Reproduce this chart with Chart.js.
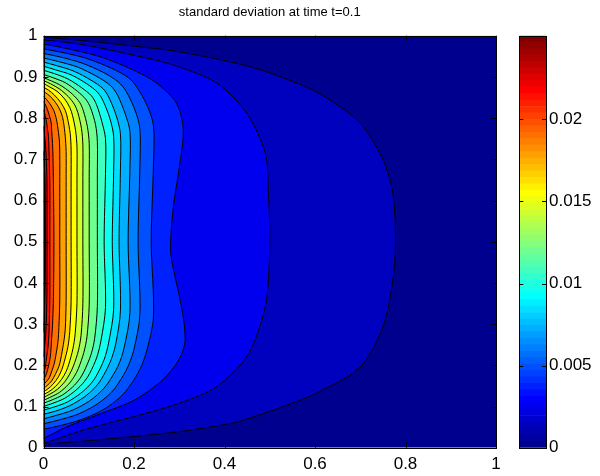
<!DOCTYPE html>
<html>
<head>
<meta charset="utf-8">
<title>standard deviation at time t=0.1</title>
<script src="https://cdn.jsdelivr.net/npm/chart.js@4.4.1/dist/chart.umd.min.js"></script>
<style>
  html, body { margin: 0; padding: 0; background: #fff; }
  #wrap { position: relative; width: 600px; height: 476px; }
  #field { position: absolute; left: 0; top: 0; }
  #cbar { position: absolute; left: 500px; top: 0; }
</style>
</head>
<body>
<div id="wrap">
  <canvas id="field" width="600" height="476"></canvas>
  <canvas id="cbar" width="100" height="476"></canvas>
</div>
<script>
// Axis ticks
const xTicks = [0, 0.2, 0.4, 0.6, 0.8, 1];
const yTicks = [0, 0.1, 0.2, 0.3, 0.4, 0.5, 0.6, 0.7, 0.8, 0.9, 1];
const cbarTicks = [0, 0.005, 0.01, 0.015, 0.02];
const cMax = 0.0251;

// Contour levels (std. deviation), outermost first
const levels = [0.0012, 0.0024, 0.0036, 0.0048, 0.0060, 0.0072, 0.0084, 0.0096, 0.0108, 0.0120,
                0.0132, 0.0143, 0.0155, 0.0167, 0.0179, 0.0191, 0.0203, 0.0215, 0.0227, 0.0239];

// Contour lines as [x, y] points, running from the bottom edge round to the top edge
const contours = [
  [[0,0.003],[0.014,0.009],[0.088,0.016],[0.198,0.027],[0.30,0.039],[0.419,0.06],[0.456,0.072],[0.53,0.100],[0.604,0.133],[0.70,0.196],[0.75,0.293],[0.772,0.407],[0.778,0.5],[0.772,0.618],[0.75,0.70],[0.70,0.788],[0.626,0.849],[0.567,0.882],[0.456,0.925],[0.30,0.961],[0.198,0.975],[0.088,0.988],[0.014,0.995],[0,0.997]],
  [[0,0.01],[0.088,0.043],[0.198,0.075],[0.30,0.108],[0.383,0.148],[0.449,0.221],[0.478,0.294],[0.494,0.367],[0.50,0.5],[0.497,0.62],[0.490,0.715],[0.449,0.812],[0.383,0.885],[0.287,0.929],[0.198,0.953],[0.088,0.978],[0,0.99]],
  [[0,0.022],[0.05,0.05],[0.12,0.08],[0.2,0.115],[0.264,0.165],[0.30,0.215],[0.313,0.261],[0.305,0.342],[0.283,0.456],[0.281,0.5],[0.287,0.585],[0.300,0.68],[0.309,0.771],[0.294,0.836],[0.25,0.885],[0.198,0.917],[0.125,0.949],[0.051,0.969],[0,0.98]],
  [[0,0.045],[0.038,0.054],[0.083,0.068],[0.129,0.0905],[0.159,0.113],[0.181,0.136],[0.209,0.1815],[0.226,0.227],[0.243,0.318],[0.238,0.5],[0.243,0.687],[0.243,0.781],[0.230,0.828],[0.207,0.874],[0.188,0.898],[0.150,0.921],[0.095,0.945],[0.043,0.959],[0,0.968]],
  [[0,0.058],[0.033,0.067],[0.073,0.080],[0.113,0.102],[0.140,0.124],[0.159,0.146],[0.184,0.191],[0.199,0.235],[0.213,0.323],[0.209,0.5],[0.213,0.683],[0.213,0.774],[0.202,0.820],[0.182,0.866],[0.165,0.888],[0.132,0.911],[0.084,0.934],[0.038,0.948],[0,0.957]],
  [[0,0.070],[0.030,0.079],[0.065,0.0915],[0.101,0.113],[0.125,0.1345],[0.142,0.156],[0.165,0.199],[0.178,0.242],[0.191,0.328],[0.187,0.5],[0.191,0.678],[0.191,0.768],[0.180,0.812],[0.163,0.857],[0.148,0.879],[0.118,0.901],[0.075,0.924],[0.034,0.937],[0,0.946]],
  [[0,0.081],[0.027,0.089],[0.058,0.102],[0.090,0.123],[0.112,0.144],[0.127,0.165],[0.147,0.207],[0.159,0.249],[0.170,0.332],[0.167,0.5],[0.170,0.674],[0.170,0.762],[0.161,0.805],[0.145,0.849],[0.132,0.871],[0.105,0.892],[0.067,0.914],[0.030,0.927],[0,0.936]],
  [[0,0.091],[0.024,0.099],[0.053,0.111],[0.082,0.132],[0.102,0.152],[0.116,0.173],[0.134,0.214],[0.144,0.255],[0.155,0.336],[0.152,0.5],[0.155,0.670],[0.155,0.756],[0.147,0.798],[0.132,0.841],[0.120,0.862],[0.096,0.883],[0.061,0.905],[0.027,0.917],[0,0.926]],
  [[0,0.100],[0.021,0.108],[0.047,0.120],[0.072,0.140],[0.090,0.160],[0.102,0.180],[0.118,0.220],[0.127,0.260],[0.137,0.340],[0.134,0.5],[0.137,0.666],[0.137,0.750],[0.129,0.791],[0.117,0.833],[0.106,0.854],[0.084,0.874],[0.054,0.895],[0.024,0.908],[0,0.916]],
  [[0,0.108],[0.019,0.116],[0.042,0.128],[0.064,0.147],[0.080,0.167],[0.090,0.186],[0.105,0.226],[0.113,0.265],[0.119,0.343],[0.119,0.5],[0.119,0.662],[0.119,0.744],[0.115,0.784],[0.104,0.825],[0.094,0.845],[0.075,0.865],[0.048,0.886],[0.021,0.898],[0,0.906]],
  [[0,0.115],[0.016,0.123],[0.035,0.134],[0.055,0.1535],[0.068,0.173],[0.077,0.192],[0.089,0.2305],[0.096,0.269],[0.101,0.346],[0.101,0.5],[0.101,0.659],[0.101,0.739],[0.097,0.779],[0.088,0.818],[0.080,0.838],[0.064,0.858],[0.040,0.878],[0.018,0.890],[0,0.898]],
  [[0,0.122],[0.014,0.130],[0.030,0.141],[0.047,0.160],[0.058,0.179],[0.066,0.198],[0.077,0.235],[0.083,0.273],[0.087,0.349],[0.087,0.5],[0.087,0.656],[0.087,0.735],[0.084,0.774],[0.076,0.813],[0.069,0.832],[0.055,0.852],[0.035,0.871],[0.016,0.883],[0,0.891]],
  [[0,0.129],[0.012,0.136],[0.026,0.148],[0.040,0.166],[0.050,0.185],[0.056,0.203],[0.065,0.240],[0.070,0.277],[0.074,0.352],[0.074,0.5],[0.074,0.654],[0.074,0.730],[0.071,0.769],[0.064,0.807],[0.058,0.826],[0.047,0.846],[0.030,0.865],[0.013,0.876],[0,0.884]],
  [[0,0.136],[0.010,0.143],[0.021,0.154],[0.033,0.172],[0.041,0.191],[0.046,0.209],[0.054,0.245],[0.058,0.282],[0.061,0.354],[0.061,0.5],[0.061,0.650],[0.061,0.725],[0.059,0.763],[0.053,0.800],[0.048,0.819],[0.038,0.838],[0.024,0.856],[0.011,0.868],[0,0.875]],
  [[0,0.144],[0.008,0.151],[0.018,0.162],[0.027,0.180],[0.034,0.197],[0.038,0.215],[0.044,0.251],[0.048,0.286],[0.050,0.358],[0.050,0.5],[0.050,0.646],[0.050,0.719],[0.048,0.756],[0.044,0.792],[0.040,0.810],[0.032,0.829],[0.020,0.847],[0.009,0.858],[0,0.865]],
  [[0,0.153],[0.006,0.160],[0.013,0.170],[0.019,0.188],[0.024,0.205],[0.027,0.222],[0.032,0.257],[0.034,0.292],[0.036,0.361],[0.036,0.5],[0.036,0.641],[0.036,0.712],[0.035,0.747],[0.031,0.782],[0.028,0.800],[0.023,0.818],[0.014,0.835],[0.006,0.846],[0,0.853]],
  [[0,0.164],[0.003,0.171],[0.007,0.181],[0.011,0.198],[0.014,0.214],[0.016,0.231],[0.018,0.265],[0.020,0.298],[0.022,0.366],[0.023,0.5],[0.022,0.636],[0.021,0.704],[0.020,0.738],[0.018,0.772],[0.017,0.789],[0.013,0.806],[0.008,0.823],[0.004,0.833],[0,0.840]],
  [[0,0.180],[0.002,0.186],[0.004,0.196],[0.006,0.212],[0.008,0.228],[0.010,0.244],[0.012,0.276],[0.013,0.308],[0.014,0.372],[0.014,0.5],[0.014,0.628],[0.013,0.692],[0.012,0.724],[0.011,0.756],[0.009,0.772],[0.007,0.788],[0.004,0.804],[0.002,0.814],[0,0.820]],
  [[0,0.22],[0.003,0.25],[0.006,0.30],[0.008,0.40],[0.008,0.5],[0.008,0.60],[0.007,0.68],[0.004,0.74],[0,0.78]],
  [[0,0.28],[0.002,0.33],[0.004,0.42],[0.004,0.58],[0.003,0.66],[0,0.72]]
];

const FONT = 'Liberation Sans, Arial, Helvetica, sans-serif';

// MATLAB-style jet colormap, 64 rows
function jetU(k) {
  if (k < 1 || k > 47) return 0;
  if (k <= 16) return k / 16;
  if (k <= 31) return 1;
  return (48 - k) / 16;
}
function jetRow(i) {
  const r = jetU(i - 24), g = jetU(i - 8), b = jetU(i + 8);
  return `rgb(${Math.round(r * 255)},${Math.round(g * 255)},${Math.round(b * 255)})`;
}
function levelColor(v) {
  return jetRow(Math.min(64, Math.floor(v / cMax * 64) + 1));
}

// inward tick marks + box round an axes area
function drawFrame(ctx, a, xs, ys, len) {
  ctx.save();
  ctx.strokeStyle = '#000';
  ctx.lineWidth = 1;
  ctx.beginPath();
  if (xs) xs.forEach(px => {
    const x = Math.round(px) + 0.5;
    ctx.moveTo(x, a.bottom); ctx.lineTo(x, a.bottom - len);
    ctx.moveTo(x, a.top); ctx.lineTo(x, a.top + len);
  });
  ys.forEach(py => {
    const y = Math.round(py) + 0.5;
    ctx.moveTo(a.left, y); ctx.lineTo(a.left + len, y);
    ctx.moveTo(a.right, y); ctx.lineTo(a.right - len, y);
  });
  ctx.stroke();
  ctx.strokeRect(Math.round(a.left) + 0.5, Math.round(a.top) + 0.5,
                 Math.round(a.right) - Math.round(a.left), Math.round(a.bottom) - Math.round(a.top));
  ctx.restore();
}

// fills every contour band, outermost first, before the black lines go on top
const contourFill = {
  id: 'contourFill',
  beforeDatasetsDraw(chart) {
    const {ctx, chartArea: a} = chart;
    ctx.save();
    ctx.beginPath();
    ctx.rect(a.left, a.top, a.right - a.left, a.bottom - a.top);
    ctx.clip();
    ctx.fillStyle = levelColor(0);
    ctx.fillRect(a.left, a.top, a.right - a.left, a.bottom - a.top);
    levels.forEach((lv, i) => {
      const line = chart.getDatasetMeta(i).dataset;
      line.updateControlPoints(a, 'x');
      ctx.beginPath();
      line.path(ctx);
      ctx.closePath();
      ctx.fillStyle = levelColor(lv);
      ctx.fill();
    });
    ctx.restore();
  },
  afterDatasetsDraw(chart) {
    const {x, y} = chart.scales;
    drawFrame(chart.ctx, chart.chartArea,
      xTicks.map(v => x.getPixelForValue(v)),
      yTicks.map(v => y.getPixelForValue(v)), 5);
  }
};

const tickFont = { family: FONT, size: 17 };

new Chart(document.getElementById('field'), {
  type: 'scatter',
  data: {
    datasets: contours.map(pts => ({
      data: pts.map(([x, y]) => ({x, y})),
      showLine: true,
      borderColor: '#000',
      borderWidth: 1,
      tension: 0.3,
      pointRadius: 0,
      fill: false
    }))
  },
  options: {
    responsive: false,
    animation: false,
    devicePixelRatio: 1,
    layout: { padding: { left: 0, right: 104, top: 0, bottom: 0 } },
    plugins: {
      legend: { display: false },
      tooltip: { enabled: false },
      title: {
        display: true,
        text: 'standard deviation at time t=0.1',
        color: '#000',
        fullSize: false,
        font: { family: FONT, size: 13, weight: 'normal' },
        padding: { top: 5, bottom: 15.1 }
      }
    },
    scales: {
      x: {
        type: 'linear', min: 0, max: 1,
        grid: { display: false, drawTicks: false }, border: { display: false },
        ticks: { color: '#000', font: tickFont, padding: 6, autoSkip: false, maxRotation: 0, callback: v => String(v) },
        afterBuildTicks: s => { s.ticks = xTicks.map(v => ({value: v})); },
        afterFit: s => { s.height = 28.3; }
      },
      y: {
        type: 'linear', min: 0, max: 1,
        grid: { display: false, drawTicks: false }, border: { display: false },
        ticks: { color: '#000', font: tickFont, padding: 6, autoSkip: false, callback: v => String(v) },
        afterBuildTicks: s => { s.ticks = yTicks.map(v => ({value: v})); },
        afterFit: s => { s.width = 43.5; }
      }
    }
  },
  plugins: [contourFill]
});

// colour bar: 64 floating bars, one per colormap row
const cbarRows = [];
for (let i = 1; i <= 64; i++) {
  cbarRows.push({
    data: [[(i - 1) * cMax / 64, i * cMax / 64]],
    backgroundColor: jetRow(i),
    borderWidth: 0
  });
}

const cbarFrame = {
  id: 'cbarFrame',
  afterDatasetsDraw(chart) {
    const y = chart.scales.y;
    drawFrame(chart.ctx, chart.chartArea, null, cbarTicks.map(v => y.getPixelForValue(v)), 4);
  }
};

new Chart(document.getElementById('cbar'), {
  type: 'bar',
  data: { labels: [''], datasets: cbarRows },
  options: {
    responsive: false,
    animation: false,
    devicePixelRatio: 1,
    layout: { padding: { left: 19.3, right: 0, top: 35.7, bottom: 28.3 } },
    plugins: { legend: { display: false }, tooltip: { enabled: false } },
    datasets: { bar: { grouped: false, barPercentage: 1, categoryPercentage: 1 } },
    scales: {
      x: { display: false },
      y: {
        position: 'right', min: 0, max: cMax,
        grid: { display: false, drawTicks: false }, border: { display: false },
        ticks: { color: '#000', font: tickFont, padding: 3, autoSkip: false, callback: v => String(v) },
        afterBuildTicks: s => { s.ticks = cbarTicks.map(v => ({value: v})); },
        afterFit: s => { s.width = 54; }
      }
    }
  },
  plugins: [cbarFrame]
});
</script>
</body>
</html>
